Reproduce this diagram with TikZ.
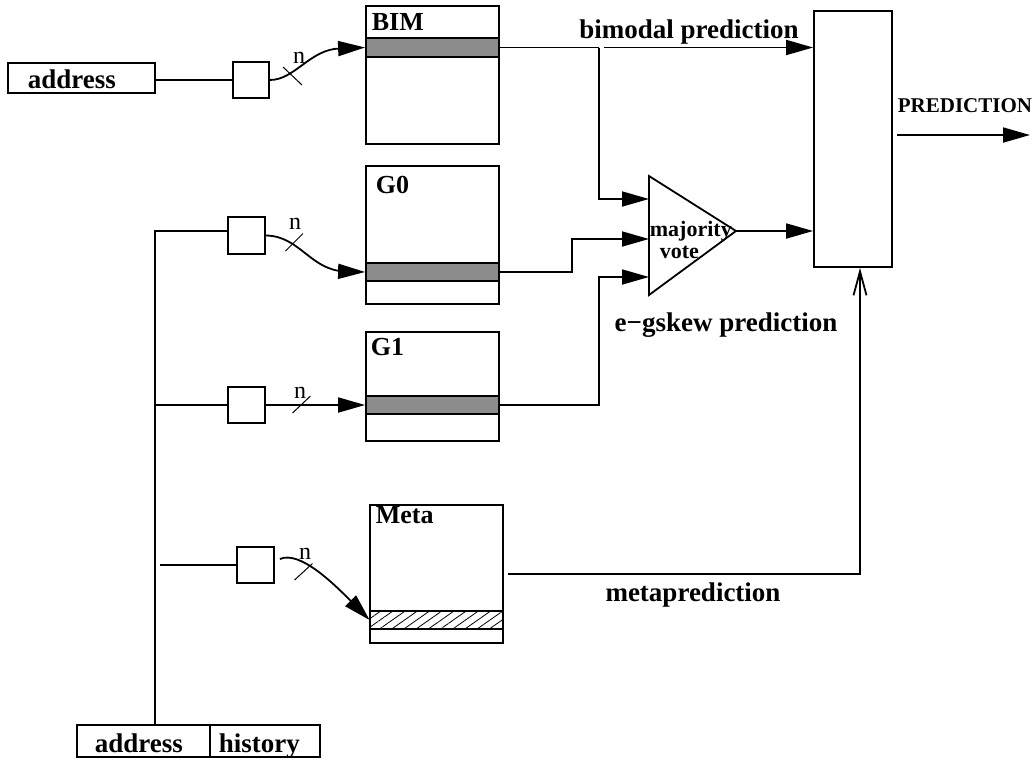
\documentclass[tikz,border=0pt]{standalone}
\usepackage{fontspec}
\setmainfont{Liberation Serif}
\usetikzlibrary{arrows.meta,patterns.meta}
\definecolor{bargray}{HTML}{8C8C8C}
\begin{document}
\begin{tikzpicture}[x=1pt,y=-1pt,line width=1.8pt,
  box/.style={draw,rectangle,inner sep=0pt},
  bar/.style={box,fill=bargray},
  hbar/.style={box,pattern={Lines[angle=35,distance=7pt,line width=0.8pt]}},
  big/.style={font=\fontsize{27}{30}\selectfont\bfseries,inner sep=0pt,anchor=base},
  tag/.style={font=\fontsize{26}{30}\selectfont\bfseries,inner sep=0pt,anchor=base west},
  small/.style={font=\fontsize{22}{24}\selectfont\bfseries,inner sep=0pt,anchor=base west},
  nlab/.style={font=\fontsize{24}{24}\selectfont,inner sep=0pt},
  arr/.style={-{Triangle[length=27pt,width=15pt]}},
  oarr/.style={-{Straight Barb[length=24pt,width=13pt,line width=1.8pt]}},
  tick/.style={line width=1pt}]
\useasboundingbox (0,0) rectangle (1036,758);

% tables
\node[box,minimum width=133pt,minimum height=138pt] (bim) at (432.5,75) {};
\node[bar,minimum width=133pt,minimum height=19pt] (bimbar) at (432.5,47.5) {};
\node[tag] at (371,30) {BIM};

\node[box,minimum width=133pt,minimum height=138pt] (g0) at (432.5,235) {};
\node[bar,minimum width=133pt,minimum height=18pt] (g0bar) at (432.5,272) {};
\node[tag] at (375,193) {G0};

\node[box,minimum width=133pt,minimum height=109pt] (g1) at (432.5,386.5) {};
\node[bar,minimum width=133pt,minimum height=18pt] (g1bar) at (432.5,405) {};
\node[tag] at (370,355) {G1};

\node[box,minimum width=133pt,minimum height=138pt] (meta) at (436.5,574) {};
\node[hbar,minimum width=133pt,minimum height=18pt] (metabar) at (436.5,620) {};
\node[tag] at (375,523) {Meta};

% selector box
\node[box,minimum width=78pt,minimum height=256pt] (sel) at (853,139) {};

% address boxes
\node[box,minimum width=147pt,minimum height=30pt] (addr1) at (81.5,78) {};
\node[big,anchor=base west] at (27,88) {address};
\node[box,minimum width=133pt,minimum height=32pt] (addr2) at (143.5,741) {};
\node[big,anchor=base west] at (94,752) {address};
\node[box,minimum width=110pt,minimum height=32pt] (hist) at (265,741) {};
\node[big,anchor=base west] at (218,752) {history};

% hash boxes
\node[box,minimum width=36pt,minimum height=36pt] (sqb) at (251,80) {};
\node[box,minimum width=37pt,minimum height=37pt] (sq0) at (246.5,235.5) {};
\node[box,minimum width=37pt,minimum height=36pt] (sq1) at (246.5,405) {};
\node[box,minimum width=37pt,minimum height=36pt] (sqm) at (255.5,565) {};

% majority vote triangle
\coordinate (tt) at (649,176);
\coordinate (ta) at (736,231);
\coordinate (tb) at (649,295);
\draw (tt) -- (ta) -- (tb) -- cycle;
\node[small] at (649,236) {majority};
\node[small] at (659,258) {vote};

% address/history bus
\coordinate (busTop) at (155,231);
\coordinate (metaIn) at (160,565);
\draw (addr1.east |- sqb.west) -- (sqb.west);
\draw (sq0.west |- busTop) -- (busTop) -- (busTop |- addr2.north);
\draw (busTop |- sq1.west) -- (sq1.west);
\draw (metaIn) -- (sqm.west);

% index connectors
\draw[arr] (sqb.east) .. controls (295,80) and (310,49) .. (340,48.5) -- (bimbar.west);
\draw[tick] (283,67) -- (302,85);
\node[nlab] at (299,58) {n};

\draw[arr] (sq0.east) .. controls (300,236) and (310,270) .. (345,271.5) -- (g0bar.west);
\draw[tick] (285.5,251) -- (303,233.5);
\node[nlab] at (295,224) {n};

\draw[arr] (sq1.east) -- (g1bar.west);
\draw[tick] (292.5,413) -- (310.5,396);
\node[nlab] at (300,393) {n};

\draw[arr] (sqm.east) ++(5,-6) .. controls (300,550) and (335,585) .. (metabar.west);
\draw[tick] (294.5,580) -- (312.5,563.5);
\node[nlab] at (305,554) {n};

% outputs to vote and selector
\coordinate (jb) at (599,47.5);
\coordinate (jb2) at (604,47.5);
\draw (bimbar.east) -- (jb);
\draw[arr] (jb) -- (599,199) -- (599,199 -| tt);
\draw[arr] (jb2) -- (jb2 -| sel.west);

\coordinate (j0) at (572,272);
\draw[arr] (g0bar.east) -- (j0) -- (572,239) -- (572,239 -| tt);

\coordinate (j1) at (599,405);
\draw[arr] (g1bar.east) -- (j1) -- (599,277) -- (599,277 -| tt);

\draw[arr] (ta) -- (ta -| sel.west);

% final prediction
\coordinate (pStart) at (897,135);
\coordinate (pEnd) at (1030,135);
\draw[arr] (pStart) -- (pEnd);
\node[font=\fontsize{21}{24}\selectfont\bfseries,inner sep=0pt,anchor=base west] at (897,112) {PREDICTION};

% metaprediction
\coordinate (mStart) at (508,574);
\coordinate (mCorner) at (860,574);
\draw[oarr] (mStart) -- (mCorner) -- (mCorner |- sel.south);

% labels
\node[big] at (689,38) {bimodal prediction};
\node[big] at (726,331) {e−gskew prediction};
\node[big] at (693,601) {metaprediction};
\end{tikzpicture}
\end{document}
